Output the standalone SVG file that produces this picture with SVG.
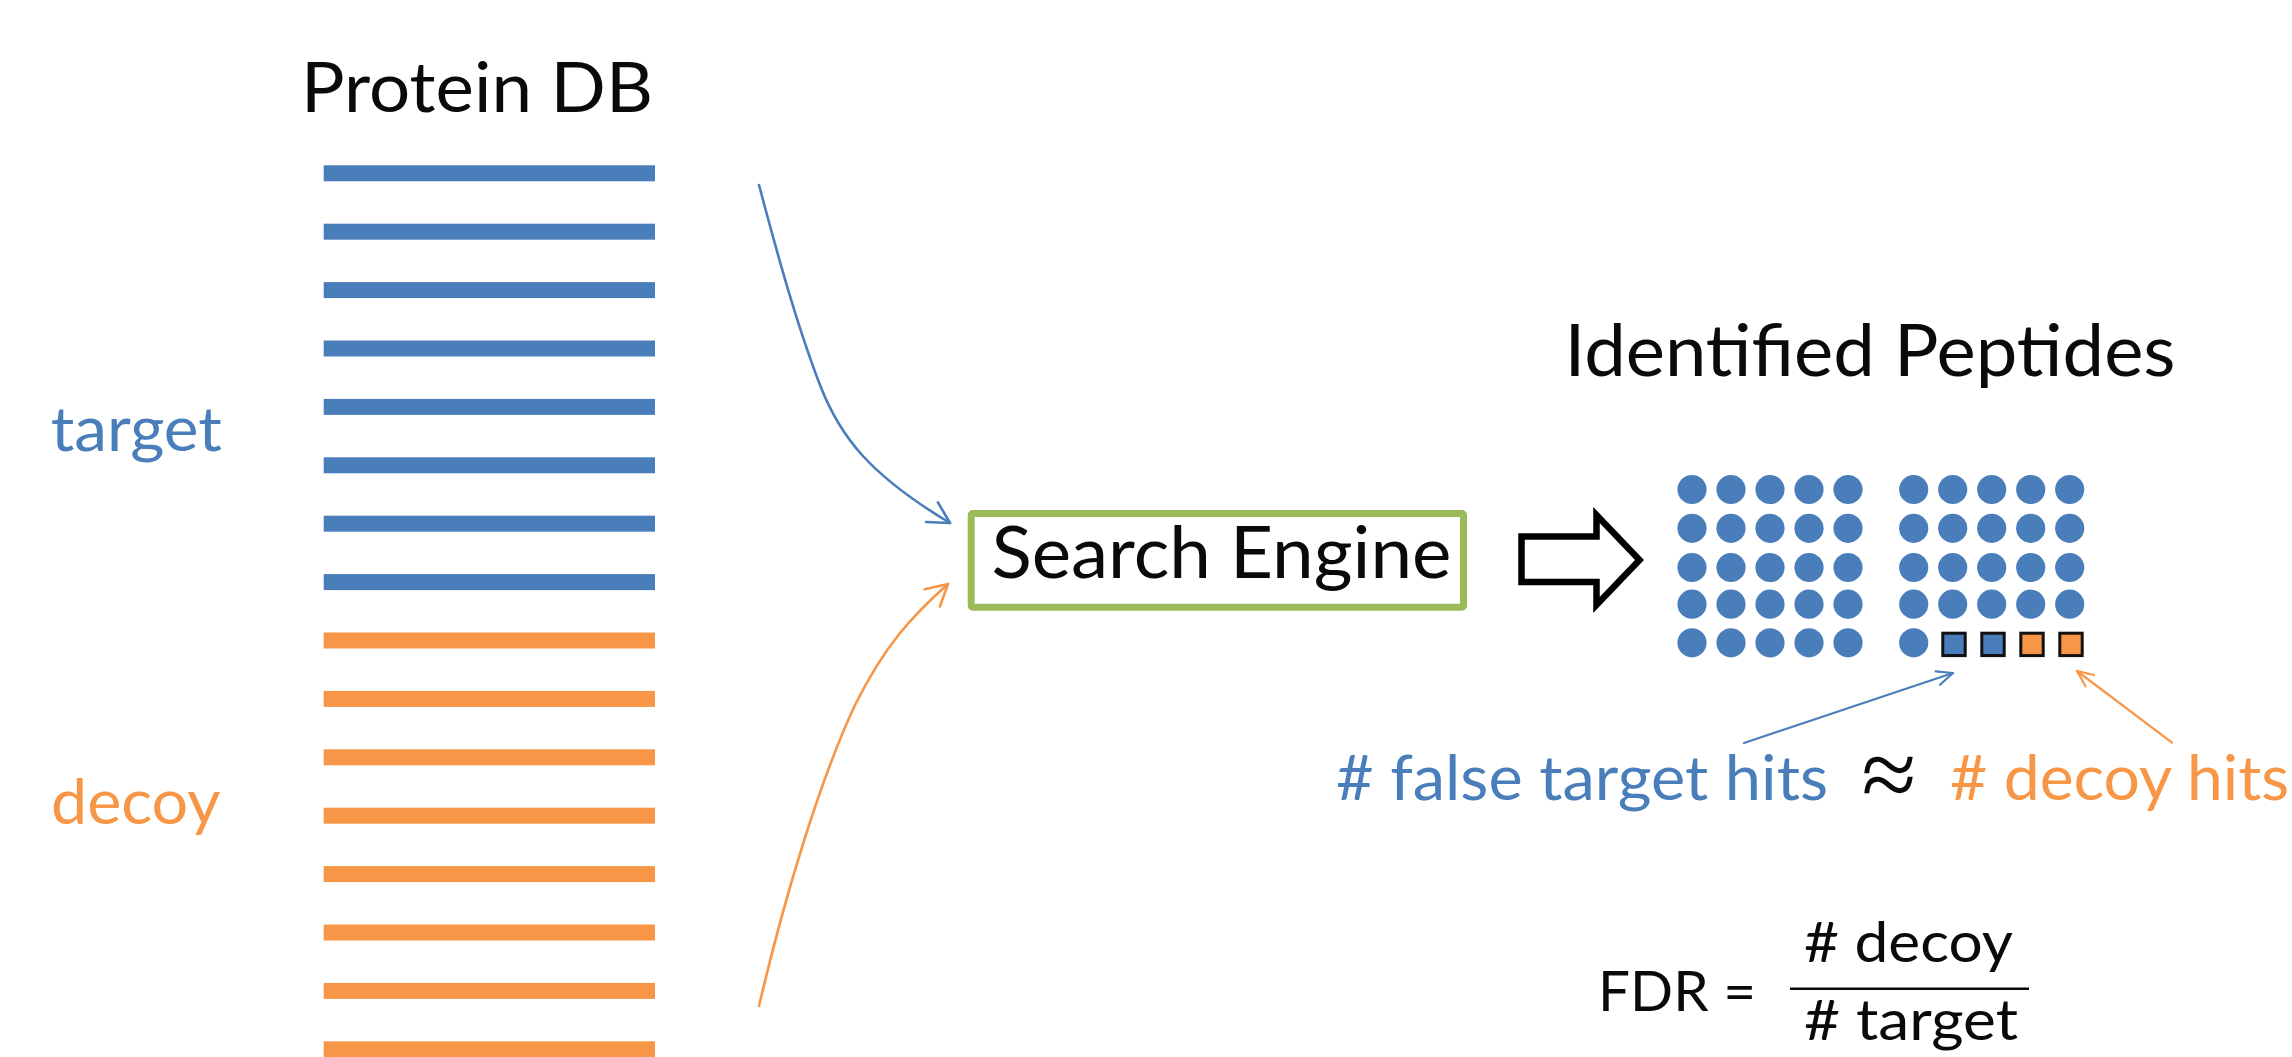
<svg xmlns="http://www.w3.org/2000/svg" width="2292" height="1057" viewBox="0 0 2292 1057">
  <style>
    .t { font-family: Lato, "Liberation Sans", sans-serif; }
    .blk { fill: #0a0a0a; }
    .blue { fill: #4A7EBB; }
    .orange { fill: #F79646; }
    .bar-t { fill: #4A7EBB; }
    .bar-d { fill: #F79646; }
    .dot { fill: #4A7EBB; }
    .hit { stroke: #111; stroke-width: 3; }
  </style>
  <defs>
    <marker id="headBlue" markerUnits="userSpaceOnUse" viewBox="-26 -14 30 28" markerWidth="30" markerHeight="28" refX="0" refY="0" orient="auto">
      <path d="M-21,-11.5 L0,0 L-21,11.5" fill="none" stroke="#4A7EBB" stroke-width="2.6" stroke-linecap="round" stroke-linejoin="round"/>
    </marker>
    <marker id="headOrange" markerUnits="userSpaceOnUse" viewBox="-26 -14 30 28" markerWidth="30" markerHeight="28" refX="0" refY="0" orient="auto">
      <path d="M-21,-11.5 L0,0 L-21,11.5" fill="none" stroke="#F79646" stroke-width="2.6" stroke-linecap="round" stroke-linejoin="round"/>
    </marker>
    <marker id="tipBlue" markerUnits="userSpaceOnUse" viewBox="-20 -10 24 20" markerWidth="24" markerHeight="20" refX="0" refY="0" orient="auto">
      <path d="M-16,-7 L0,0 L-16,7" fill="none" stroke="#4A7EBB" stroke-width="2.2" stroke-linecap="round" stroke-linejoin="round"/>
    </marker>
    <marker id="tipOrange" markerUnits="userSpaceOnUse" viewBox="-20 -10 24 20" markerWidth="24" markerHeight="20" refX="0" refY="0" orient="auto">
      <path d="M-16,-7 L0,0 L-16,7" fill="none" stroke="#F79646" stroke-width="2.2" stroke-linecap="round" stroke-linejoin="round"/>
    </marker>
  </defs>

  <rect width="2292" height="1057" fill="#ffffff"/>

  <!-- protein database: target entries on top, decoy entries below -->
  <g id="protein-db">
    <text class="t blk" x="301" y="111.7" font-size="70" textLength="352" lengthAdjust="spacingAndGlyphs">Protein DB</text>
    <g id="target-entries">
      <rect class="bar-t" x="323.7" y="165.3" width="331.3" height="16"/>
      <rect class="bar-t" x="323.7" y="223.7" width="331.3" height="16"/>
      <rect class="bar-t" x="323.7" y="282.1" width="331.3" height="16"/>
      <rect class="bar-t" x="323.7" y="340.5" width="331.3" height="16"/>
      <rect class="bar-t" x="323.7" y="398.9" width="331.3" height="16"/>
      <rect class="bar-t" x="323.7" y="457.3" width="331.3" height="16"/>
      <rect class="bar-t" x="323.7" y="515.7" width="331.3" height="16"/>
      <rect class="bar-t" x="323.7" y="574.1" width="331.3" height="16"/>
    </g>
    <g id="decoy-entries">
      <rect class="bar-d" x="323.7" y="632.5" width="331.3" height="16"/>
      <rect class="bar-d" x="323.7" y="690.9" width="331.3" height="16"/>
      <rect class="bar-d" x="323.7" y="749.3" width="331.3" height="16"/>
      <rect class="bar-d" x="323.7" y="807.7" width="331.3" height="16"/>
      <rect class="bar-d" x="323.7" y="866.1" width="331.3" height="16"/>
      <rect class="bar-d" x="323.7" y="924.5" width="331.3" height="16"/>
      <rect class="bar-d" x="323.7" y="982.9" width="331.3" height="16"/>
      <rect class="bar-d" x="323.7" y="1041.3" width="331.3" height="16"/>
    </g>
  </g>

  <g id="label-target">
    <text class="t blue" x="50.8" y="451" font-size="61" textLength="171" lengthAdjust="spacingAndGlyphs">target</text>
  </g>
  <g id="label-decoy">
    <text class="t orange" x="51" y="824" font-size="61" textLength="169.5" lengthAdjust="spacingAndGlyphs">decoy</text>
  </g>

  <g id="search-engine">
    <rect x="971.2" y="513.5" width="492.3" height="93.7" fill="#ffffff" stroke="#9BBB59" stroke-width="7" rx="1.5"/>
    <text class="t blk" x="991.4" y="577.7" font-size="71" textLength="460" lengthAdjust="spacingAndGlyphs">Search Engine</text>
  </g>

  <!-- hollow block arrow leading to the results -->
  <g id="result-arrow">
    <path d="M1521.5,536.5 L1596.5,536.5 L1596.5,515 L1639.5,560 L1596.5,605 L1596.5,582 L1521.5,582 Z" fill="#ffffff" stroke="#000000" stroke-width="6.5" stroke-linejoin="miter" stroke-miterlimit="10"/>
  </g>

  <g id="identified-peptides">
    <text class="t blk" x="1564.5" y="376" font-size="72" textLength="611" lengthAdjust="spacingAndGlyphs">Identified Peptides</text>
    <g id="hits-left">
      <circle class="dot" cx="1692" cy="489.5" r="14.6"/><circle class="dot" cx="1731" cy="489.5" r="14.6"/><circle class="dot" cx="1770" cy="489.5" r="14.6"/><circle class="dot" cx="1809" cy="489.5" r="14.6"/><circle class="dot" cx="1848" cy="489.5" r="14.6"/>
      <circle class="dot" cx="1692" cy="528.3" r="14.6"/><circle class="dot" cx="1731" cy="528.3" r="14.6"/><circle class="dot" cx="1770" cy="528.3" r="14.6"/><circle class="dot" cx="1809" cy="528.3" r="14.6"/><circle class="dot" cx="1848" cy="528.3" r="14.6"/>
      <circle class="dot" cx="1692" cy="567.5" r="14.6"/><circle class="dot" cx="1731" cy="567.5" r="14.6"/><circle class="dot" cx="1770" cy="567.5" r="14.6"/><circle class="dot" cx="1809" cy="567.5" r="14.6"/><circle class="dot" cx="1848" cy="567.5" r="14.6"/>
      <circle class="dot" cx="1692" cy="604.2" r="14.6"/><circle class="dot" cx="1731" cy="604.2" r="14.6"/><circle class="dot" cx="1770" cy="604.2" r="14.6"/><circle class="dot" cx="1809" cy="604.2" r="14.6"/><circle class="dot" cx="1848" cy="604.2" r="14.6"/>
      <circle class="dot" cx="1692" cy="642.8" r="14.6"/><circle class="dot" cx="1731" cy="642.8" r="14.6"/><circle class="dot" cx="1770" cy="642.8" r="14.6"/><circle class="dot" cx="1809" cy="642.8" r="14.6"/><circle class="dot" cx="1848" cy="642.8" r="14.6"/>
    </g>
    <g id="hits-right">
      <circle class="dot" cx="1913.7" cy="489.5" r="14.6"/><circle class="dot" cx="1952.7" cy="489.5" r="14.6"/><circle class="dot" cx="1991.7" cy="489.5" r="14.6"/><circle class="dot" cx="2030.7" cy="489.5" r="14.6"/><circle class="dot" cx="2069.7" cy="489.5" r="14.6"/>
      <circle class="dot" cx="1913.7" cy="528.3" r="14.6"/><circle class="dot" cx="1952.7" cy="528.3" r="14.6"/><circle class="dot" cx="1991.7" cy="528.3" r="14.6"/><circle class="dot" cx="2030.7" cy="528.3" r="14.6"/><circle class="dot" cx="2069.7" cy="528.3" r="14.6"/>
      <circle class="dot" cx="1913.7" cy="567.5" r="14.6"/><circle class="dot" cx="1952.7" cy="567.5" r="14.6"/><circle class="dot" cx="1991.7" cy="567.5" r="14.6"/><circle class="dot" cx="2030.7" cy="567.5" r="14.6"/><circle class="dot" cx="2069.7" cy="567.5" r="14.6"/>
      <circle class="dot" cx="1913.7" cy="604.2" r="14.6"/><circle class="dot" cx="1952.7" cy="604.2" r="14.6"/><circle class="dot" cx="1991.7" cy="604.2" r="14.6"/><circle class="dot" cx="2030.7" cy="604.2" r="14.6"/><circle class="dot" cx="2069.7" cy="604.2" r="14.6"/>
      <circle class="dot" cx="1913.7" cy="642.8" r="14.6"/>
      <rect class="hit" x="1942.8" y="633.2" width="22.4" height="22.4" fill="#4A7EBB"/>
      <rect class="hit" x="1981.8" y="633.2" width="22.4" height="22.4" fill="#4A7EBB"/>
      <rect class="hit" x="2020.8" y="633.2" width="22.4" height="22.4" fill="#F79646"/>
      <rect class="hit" x="2059.8" y="633.2" width="22.4" height="22.4" fill="#F79646"/>
    </g>
  </g>

  <g id="connectors" fill="none" stroke-linecap="round">
    <path d="M759,185 C775,245 795,320 820,385 C840,437 870,475 950,523" stroke="#4A7EBB" stroke-width="2.6" marker-end="url(#headBlue)"/>
    <path d="M759,1006 C785,895 820,780 855,705 C885,645 912,616 948,584" stroke="#F79646" stroke-width="2.6" marker-end="url(#headOrange)"/>
    <path d="M1744,743 L1953,673" stroke="#4A7EBB" stroke-width="2.2" marker-end="url(#tipBlue)"/>
    <path d="M2172,742.7 L2077,671" stroke="#F79646" stroke-width="2.2" marker-end="url(#tipOrange)"/>
  </g>

  <g id="hit-relation">
    <text class="t blue" x="1336" y="800" font-size="61" textLength="492" lengthAdjust="spacingAndGlyphs"># false target hits</text>
    <text x="1889" y="808" font-size="100" font-family="'Liberation Serif', 'DejaVu Serif', serif" text-anchor="middle" class="blk">≈</text>
    <text class="t orange" x="1950" y="800" font-size="61" textLength="339" lengthAdjust="spacingAndGlyphs"># decoy hits</text>
  </g>

  <g id="fdr-formula">
    <text class="t blk" x="1598" y="1010.7" font-size="57" textLength="158" lengthAdjust="spacingAndGlyphs">FDR =</text>
    <text class="t blk" x="1804" y="961.7" font-size="57" textLength="209" lengthAdjust="spacingAndGlyphs"># decoy</text>
    <line x1="1790" y1="988.7" x2="2029" y2="988.7" stroke="#0a0a0a" stroke-width="2.5"/>
    <text class="t blk" x="1804" y="1040" font-size="57" textLength="214" lengthAdjust="spacingAndGlyphs"># target</text>
  </g>
</svg>
